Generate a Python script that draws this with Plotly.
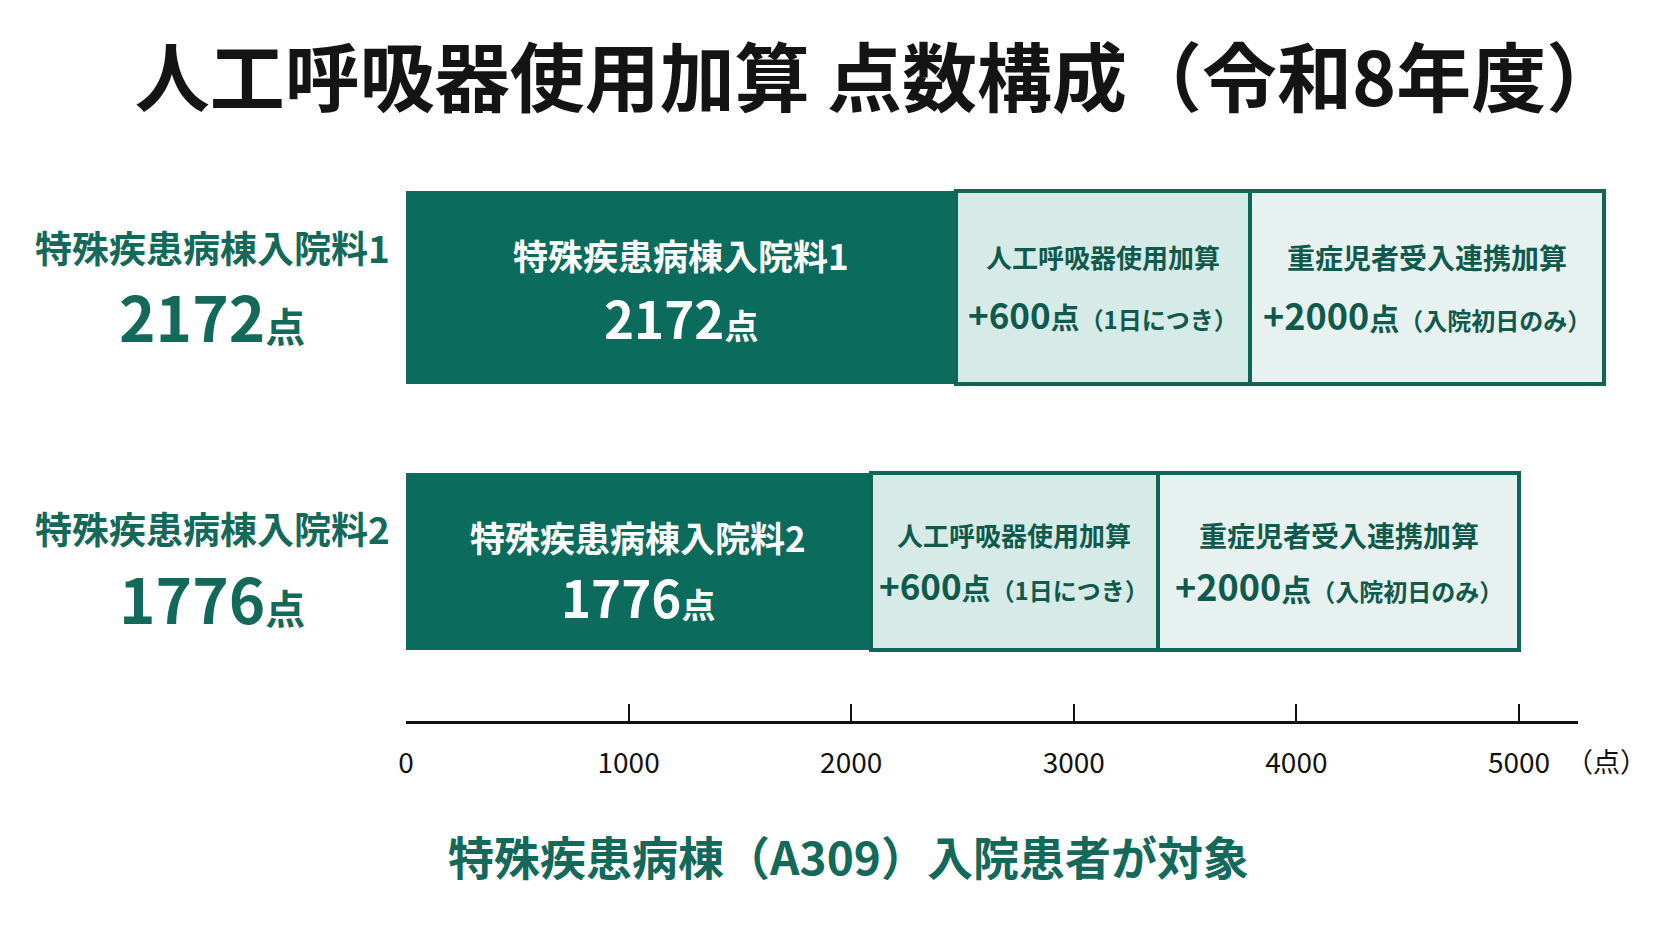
import plotly.graph_objects as go

# ---------------- data ----------------
categories = ["特殊疾患病棟入院料1", "特殊疾患病棟入院料2"]
base_points = [2172, 1776]          # 入院料の点数
vent_points = [600, 600]            # 人工呼吸器使用加算
transfer_points = [2000, 2000]      # 重症児者受入連携加算
# segment lengths as drawn in the picture (axis units, read off the 0–5000 scale)
base_drawn = [2470, 2087]
vent_drawn = [1320, 1292]
transfer_drawn = [1590, 1622]
bar_thickness = [0.704, 0.646]

tick_values = [0, 1000, 2000, 3000, 4000, 5000]
tick_labels = ["0", "1000", "2000", "3000", "4000", "5000"]
axis_unit = "（点）"

title_text = "人工呼吸器使用加算 点数構成（令和8年度）"
footnote = "特殊疾患病棟（A309）入院患者が対象"
vent_label = "人工呼吸器使用加算"
vent_note = "（1日につき）"
transfer_label = "重症児者受入連携加算"
transfer_note = "（入院初日のみ）"

# ---------------- style ----------------
OFF = 8                      # default page body margin
W, H = 1672 - 2 * OFF, 941 - 2 * OFF
FONT = "Noto Sans CJK JP"
DARK = "#0b6b5c"
BORDER = "#0d6656"
LIGHT1 = "#d6ebe7"
LIGHT2 = "#e7f2f0"
TEXT_GREEN = "#13695a"
TEXT_DARK_GREEN = "#0f5a4c"

# positions measured on the reference page (pixels)
L_PX, R_PX, T_PX, B_PX = 406, 1625, 150, 721
AXIS_END_PX = 1578
PX_PER_UNIT = 0.2226
plot_w = R_PX - L_PX
plot_h = B_PX - T_PX
axis_frac = (AXIS_END_PX - L_PX) / plot_w
axis_max = (AXIS_END_PX - L_PX) / PX_PER_UNIT
bars_max = axis_max / axis_frac


def px_x(px):
    return (px - L_PX) / plot_w


def px_y(py):
    return (B_PX - py) / plot_h


# y range (category axis, first category at top)
c1_px, c2_px = 287.5, 561.5
unit_px = c2_px - c1_px
y_bottom = 1 + (B_PX - c2_px) / unit_px
y_top = 0 - (c1_px - T_PX) / unit_px

# per-row vertical text offsets (px)
left_shift = [(41, -27), (34, -35)]
dark_shift = [(33, -29), (25, -34)]
light_shift = [(31, -26), (27, -23)]

fig = go.Figure()
fig.add_trace(go.Bar(
    y=categories, x=base_drawn, orientation="h", width=bar_thickness,
    marker=dict(color=DARK, line=dict(width=0)), hoverinfo="skip", showlegend=False))
fig.add_trace(go.Bar(
    y=categories, x=vent_drawn, orientation="h", width=bar_thickness,
    marker=dict(color=LIGHT1, line=dict(color=BORDER, width=4)), hoverinfo="skip", showlegend=False))
fig.add_trace(go.Bar(
    y=categories, x=transfer_drawn, orientation="h", width=bar_thickness,
    marker=dict(color=LIGHT2, line=dict(color=BORDER, width=4)), hoverinfo="skip", showlegend=False))
# carrier trace for the visible scale axis
fig.add_trace(go.Scatter(
    x=[tick_values[0]], y=[categories[0]], xaxis="x2", yaxis="y", mode="markers",
    marker=dict(opacity=0), hoverinfo="skip", showlegend=False))

ann = []
for i, cat in enumerate(categories):
    # left labels
    ann.append(dict(x=px_x(212), xref="paper", y=cat, yref="y", yshift=left_shift[i][0],
                    text=cat, showarrow=False, xanchor="center", yanchor="middle",
                    font=dict(family=FONT, size=37, color=TEXT_GREEN, weight=700)))
    ann.append(dict(x=px_x(212), xref="paper", y=cat, yref="y", yshift=left_shift[i][1],
                    text=f"<span style='font-size:62px'>{base_points[i]}</span>点",
                    showarrow=False, xanchor="center", yanchor="middle",
                    font=dict(family=FONT, size=40, color=TEXT_GREEN, weight=700)))
    # dark segment text
    xc = base_drawn[i] / 2
    ann.append(dict(x=xc, xref="x", y=cat, yref="y", yshift=dark_shift[i][0],
                    text=cat, showarrow=False, xanchor="center", yanchor="middle",
                    font=dict(family=FONT, size=35, color="white", weight=700)))
    ann.append(dict(x=xc, xref="x", y=cat, yref="y", yshift=dark_shift[i][1],
                    text=f"<span style='font-size:51px'>{base_points[i]}</span>点",
                    showarrow=False, xanchor="center", yanchor="middle",
                    font=dict(family=FONT, size=34, color="white", weight=700)))
    # vent segment text
    xv = base_drawn[i] + vent_drawn[i] / 2
    ann.append(dict(x=xv, xref="x", y=cat, yref="y", yshift=light_shift[i][0],
                    text=vent_label, showarrow=False, xanchor="center", yanchor="middle",
                    font=dict(family=FONT, size=26, color=TEXT_DARK_GREEN, weight=700)))
    ann.append(dict(x=xv, xref="x", y=cat, yref="y", yshift=light_shift[i][1],
                    text=f"<span style='font-size:35px'>+{vent_points[i]}</span>点"
                         f"<span style='font-size:24px'>{vent_note}</span>",
                    showarrow=False, xanchor="center", yanchor="middle",
                    font=dict(family=FONT, size=29, color=TEXT_DARK_GREEN, weight=700)))
    # transfer segment text
    xt = base_drawn[i] + vent_drawn[i] + transfer_drawn[i] / 2
    ann.append(dict(x=xt, xref="x", y=cat, yref="y", yshift=light_shift[i][0],
                    text=transfer_label, showarrow=False, xanchor="center", yanchor="middle",
                    font=dict(family=FONT, size=28, color=TEXT_DARK_GREEN, weight=700)))
    ann.append(dict(x=xt, xref="x", y=cat, yref="y", yshift=light_shift[i][1],
                    text=f"<span style='font-size:36px'>+{transfer_points[i]}</span>点"
                         f"<span style='font-size:24px'>{transfer_note}</span>",
                    showarrow=False, xanchor="center", yanchor="middle",
                    font=dict(family=FONT, size=30, color=TEXT_DARK_GREEN, weight=700)))

ann.append(dict(x=px_x(1606), xref="paper", y=px_y(760), yref="paper",
                text=axis_unit, showarrow=False, xanchor="center", yanchor="middle",
                font=dict(family=FONT, size=27, color="#111111")))
ann.append(dict(x=px_x(848), xref="paper", y=px_y(855), yref="paper",
                text=footnote, showarrow=False, xanchor="center", yanchor="middle",
                font=dict(family=FONT, size=46, color=TEXT_GREEN, weight=700)))

fig.update_layout(
    width=W, height=H,
    margin=dict(l=L_PX - OFF, r=W - (R_PX - OFF), t=T_PX - OFF, b=H - (B_PX - OFF), pad=0),
    paper_bgcolor="white", plot_bgcolor="rgba(0,0,0,0)",
    barmode="stack", bargap=0,
    title=dict(text=title_text, x=(878 - OFF) / W, y=1 - (80 - OFF) / H,
               xanchor="center", yanchor="middle", xref="container", yref="container",
               font=dict(family=FONT, size=75, color="#141414", weight=700)),
    xaxis=dict(range=[0, bars_max], domain=[0, 1], visible=False, fixedrange=True),
    xaxis2=dict(range=[0, axis_max], domain=[0, axis_frac], anchor="y",
                showline=True, linecolor="#111111", linewidth=3,
                ticks="inside", ticklen=17, tickwidth=2, tickcolor="#111111",
                tickvals=tick_values, ticktext=tick_labels, ticklabelstandoff=15,
                tickfont=dict(family=FONT, size=28, color="#111111"),
                showgrid=False, zeroline=False, fixedrange=True),
    yaxis=dict(type="category", categoryarray=categories, categoryorder="array",
               range=[y_bottom, y_top], visible=False, fixedrange=True),
    annotations=ann,
)

fig.write_html("out.html")
